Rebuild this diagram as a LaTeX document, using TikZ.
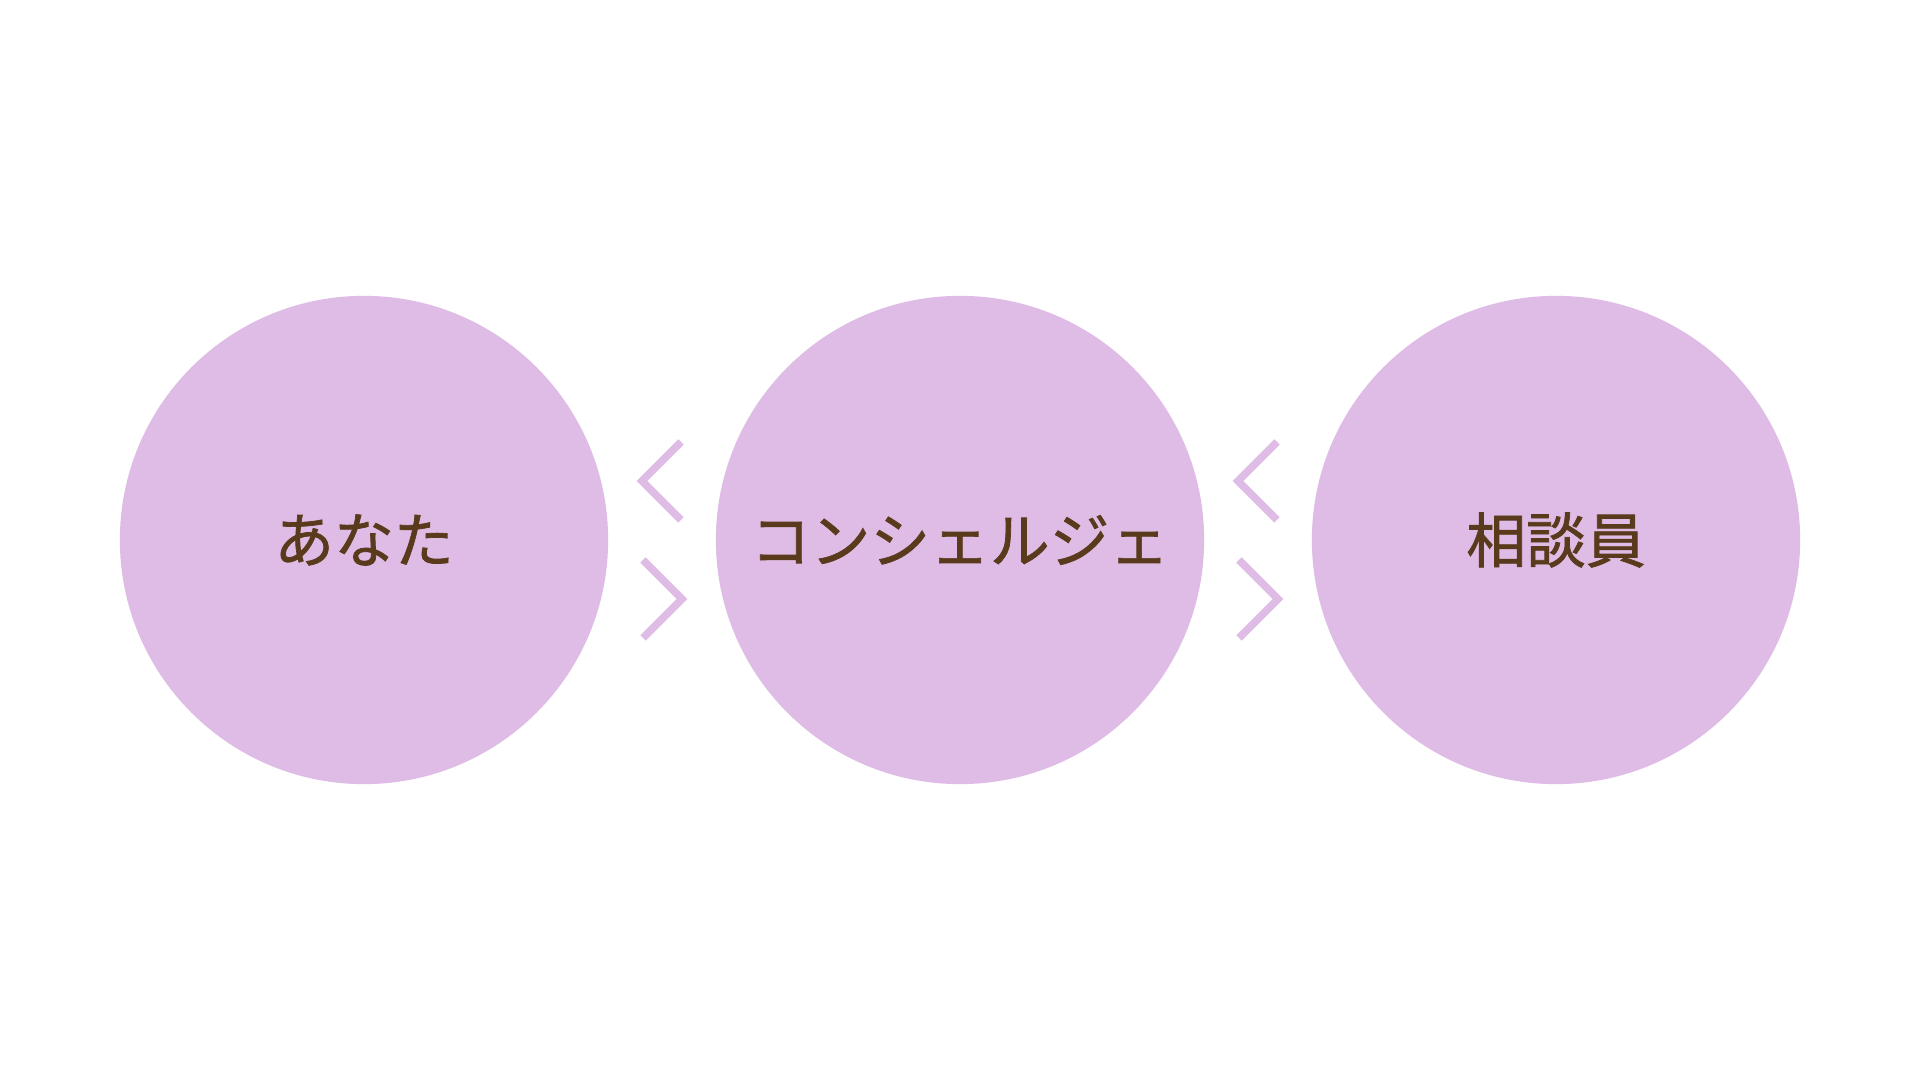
\documentclass[tikz,border=0pt]{standalone}
\usepackage{fontspec}
\newfontfamily\jpfont{Noto Sans CJK JP}[FakeBold=1.2]
\definecolor{circ}{HTML}{DFBCE5}
\definecolor{txt}{HTML}{5A3A1C}
\begin{document}
\begin{tikzpicture}[x=0.01cm,y=-0.01cm,
  bubble/.style={circle,fill=circ,minimum size=4.88cm,inner sep=0pt,text=txt,
    font=\jpfont\fontsize{17}{20}\selectfont},
  chev/.style={draw=circ,line width=0.075cm,miter limit=10}]
\useasboundingbox[fill=white] (0,0) rectangle (1920,1080);
\node[bubble] (a) at (364,540) {あなた};
\node[bubble] (b) at (960,540) {コンシェルジェ};
\node[bubble] (c) at (1556,540) {相談員};
\foreach \dx in {0,596} {
  \draw[chev] (681+\dx,442) -- (642+\dx,481) -- (681+\dx,520);
  \draw[chev] (643+\dx,560) -- (682+\dx,599) -- (643+\dx,638);
}
\end{tikzpicture}
\end{document}
